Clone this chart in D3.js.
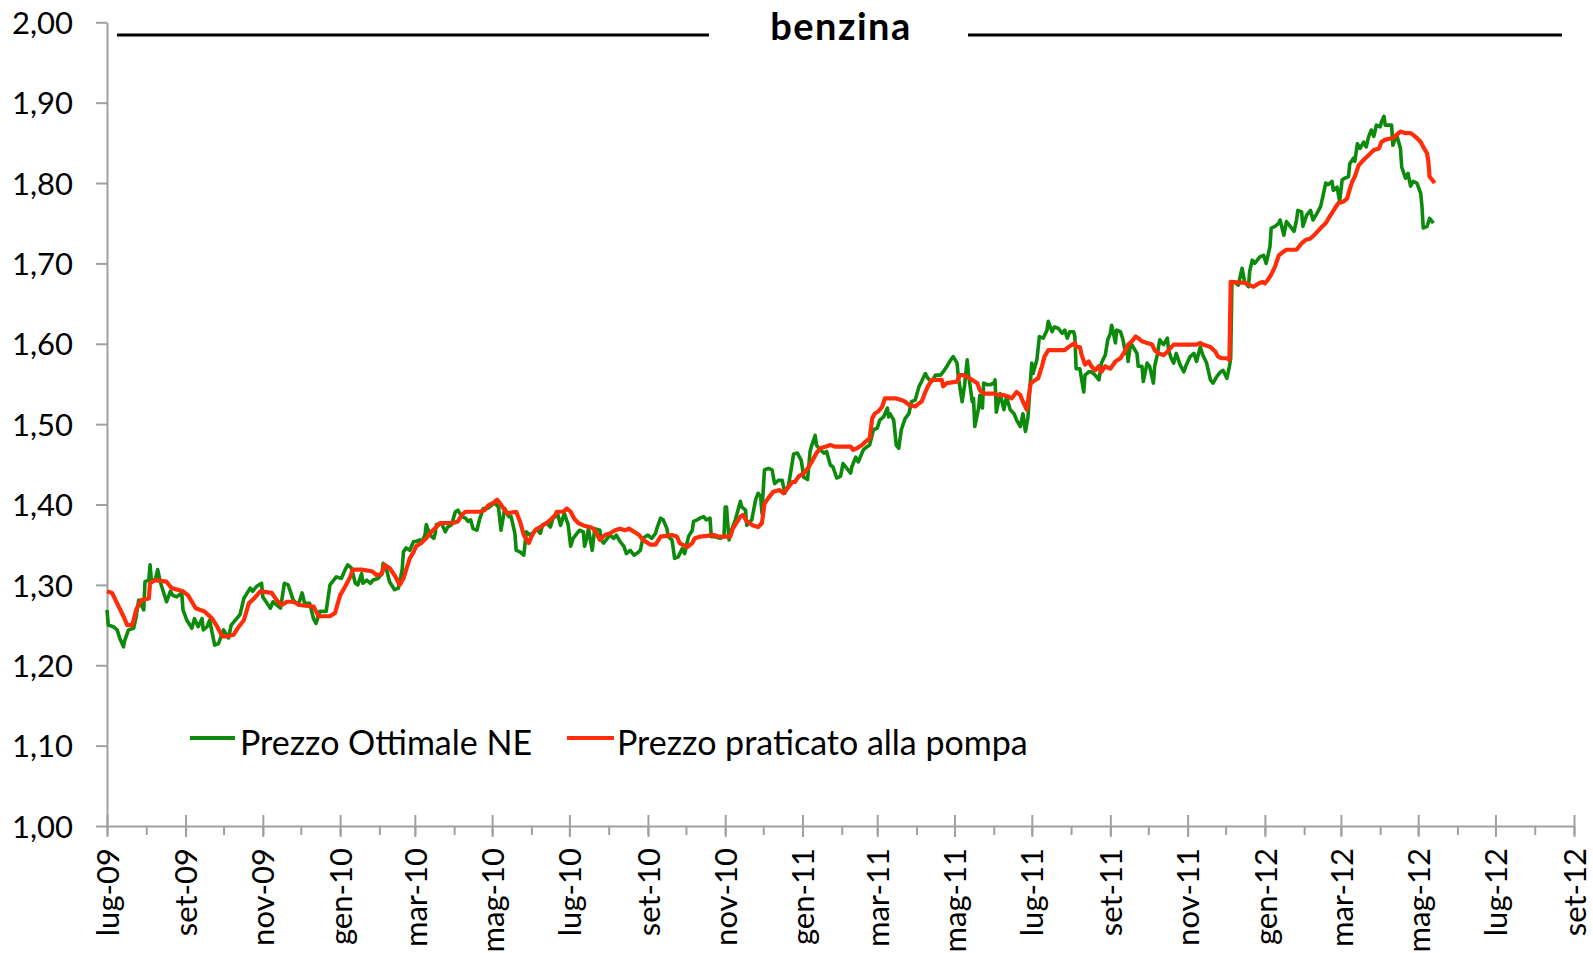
<!DOCTYPE html>
<html><head><meta charset="utf-8">
<script src="https://cdn.jsdelivr.net/npm/d3@7"></script>
<style>
html,body{margin:0;padding:0;background:#fff;}
svg{display:block;}
text{font-family:Lato,"Open Sans",sans-serif;fill:#000;}
</style></head>
<body><svg id="c" width="1593" height="953"></svg>
<script>
// ---- DATA ----
const title = "benzina";
const seriesNames = ["Prezzo Ottimale NE", "Prezzo praticato alla pompa"];
const startDate = "2009-07-01";             // day 0 of the day-offset arrays
const xDomain = ["2009-07-01", "2012-09-01"];
const xTickLabels = ["lug-09","set-09","nov-09","gen-10","mar-10","mag-10","lug-10","set-10","nov-10",
  "gen-11","mar-11","mag-11","lug-11","set-11","nov-11","gen-12","mar-12","mag-12","lug-12","set-12"];
const yTicks = [1.00,1.10,1.20,1.30,1.40,1.50,1.60,1.70,1.80,1.90,2.00];

// Prezzo Ottimale NE (green): days since 1 Jul 2009, value
const greenDays = [0,1,5,8,10,13,14,17,21,23,25,27,29,30,33,34,35,38,40,42,44,47,50,52,55,59,60,63,67,69,72,75,76,79,81,85,88,92,96,98,105,108,113,115,118,122,123,129,131,137,140,143,147,151,154,156,160,163,165,168,173,176,
181,185,188,190,193,196,198,201,202,205,208,210,214,217,218,221,223,227,230,233,234,236,239,242,244,247,248,251,252,255,258,259,260,264,267,269,272,275,277,280,283,285,287,289,292,294,297,300,302,306,309,311,314,317,319,322,323,326,329,331,334,337,339,342,344,347,350,352,356,
358,361,364,366,368,371,373,376,377,379,380,383,385,389,390,392,394,397,400,402,405,408,410,413,416,418,421,423,427,430,433,434,437,439,442,443,446,447,448,451,454,456,459,462,463,466,468,471,473,476,477,480,484,487,488,489,491,492,496,500,501,504,505,509,512,514,516,517,518,519,522,525,527,530,533,535,538,
542,545,548,550,553,555,556,559,560,563,566,568,571,573,576,579,581,584,587,588,591,593,596,597,600,602,605,608,610,613,616,617,618,621,623,625,627,630,633,635,638,641,643,646,648,651,654,658,660,663,666,668,671,672,675,677,679,680,683,684,685,688,689,691,692,695,697,700,701,702,705,708,710,713,716,718,721,723,725,727,
729,730,731,734,736,739,742,743,746,748,751,754,756,758,760,763,764,765,768,769,771,772,775,777,780,783,785,788,790,792,793,794,796,797,800,802,804,805,806,808,810,813,814,817,818,821,823,826,827,829,831,834,837,838,840,842,844,847,850,852,855,858,860,863,865,868,871,873,876,879,881,884,886,887,
888,890,893,896,898,901,902,904,906,910,913,915,918,919,922,925,926,929,931,934,937,939,940,943,944,947,950,952,955,958,960,962,964,967,968,971,973,975,977,980,981,984,985,987,989,992,994,996,998,1000,1002,1005,1006,1008,1009,1014,1015,1018,1021,1022,1025,1027,1029,1031,1034,1037,1038,1039,1042,1044,1047];
const greenValues = [1.269,1.250,1.248,1.244,1.234,1.223,1.231,1.244,1.246,1.260,1.281,1.275,1.269,1.304,1.306,1.325,1.306,1.306,1.319,1.304,1.294,1.279,1.292,1.287,1.285,1.290,1.269,1.256,1.246,1.258,1.248,1.258,1.244,1.248,1.256,1.225,1.227,1.244,1.234,1.250,1.263,1.283,1.296,1.292,1.298,1.302,1.285,1.271,1.279,1.271,1.302,1.300,1.281,1.275,1.290,1.277,1.277,1.258,1.252,1.267,1.267,1.300,
1.310,1.308,1.319,1.325,1.321,1.302,1.300,1.314,1.302,1.306,1.302,1.306,1.308,1.314,1.327,1.317,1.304,1.294,1.296,1.319,1.341,1.346,1.343,1.354,1.354,1.356,1.352,1.362,1.375,1.362,1.358,1.364,1.375,1.377,1.366,1.372,1.375,1.391,1.393,1.385,1.383,1.379,1.381,1.370,1.368,1.381,1.395,1.395,1.397,1.402,1.397,1.368,1.395,1.385,1.385,1.364,1.343,1.341,1.337,1.366,1.362,1.366,1.370,1.364,1.375,1.377,1.372,1.383,1.387,
1.374,1.389,1.375,1.348,1.358,1.364,1.368,1.366,1.348,1.360,1.370,1.343,1.370,1.368,1.356,1.352,1.356,1.362,1.358,1.362,1.354,1.348,1.339,1.343,1.337,1.339,1.343,1.358,1.362,1.358,1.364,1.370,1.383,1.381,1.370,1.360,1.356,1.345,1.333,1.335,1.345,1.339,1.360,1.368,1.379,1.381,1.383,1.385,1.381,1.383,1.360,1.360,1.358,1.360,1.397,1.397,1.356,1.364,1.381,1.404,1.397,1.393,1.374,1.381,1.406,1.414,1.410,1.389,1.418,1.443,1.445,1.443,1.426,1.430,1.430,1.414,1.424,
1.463,1.464,1.455,1.434,1.431,1.466,1.472,1.486,1.474,1.468,1.464,1.466,1.449,1.447,1.433,1.435,1.451,1.445,1.439,1.447,1.459,1.453,1.464,1.468,1.472,1.474,1.493,1.495,1.505,1.509,1.520,1.509,1.513,1.505,1.474,1.470,1.493,1.507,1.513,1.528,1.530,1.547,1.553,1.563,1.557,1.553,1.561,1.561,1.565,1.572,1.580,1.584,1.576,1.559,1.528,1.549,1.580,1.563,1.528,1.532,1.497,1.520,1.536,1.520,1.551,1.549,1.549,1.551,1.555,1.515,1.538,1.518,1.534,1.518,1.513,1.505,1.497,1.513,1.491,1.509,
1.555,1.576,1.563,1.580,1.609,1.607,1.617,1.628,1.615,1.621,1.619,1.613,1.617,1.607,1.615,1.615,1.609,1.569,1.569,1.559,1.540,1.561,1.565,1.565,1.561,1.555,1.576,1.586,1.605,1.613,1.623,1.617,1.601,1.617,1.615,1.605,1.588,1.594,1.578,1.601,1.596,1.588,1.572,1.572,1.553,1.576,1.572,1.551,1.572,1.586,1.605,1.599,1.607,1.592,1.582,1.576,1.588,1.574,1.565,1.574,1.584,1.588,1.578,1.596,1.586,1.576,1.555,1.551,1.559,1.565,1.567,1.557,1.572,1.582,
1.677,1.677,1.673,1.694,1.677,1.671,1.690,1.704,1.700,1.708,1.710,1.700,1.721,1.744,1.746,1.750,1.754,1.735,1.752,1.746,1.740,1.754,1.766,1.764,1.746,1.760,1.766,1.754,1.762,1.771,1.785,1.800,1.798,1.802,1.791,1.795,1.777,1.804,1.806,1.808,1.824,1.831,1.827,1.849,1.843,1.851,1.845,1.858,1.866,1.858,1.872,1.870,1.876,1.883,1.872,1.872,1.847,1.860,1.843,1.820,1.806,1.812,1.796,1.802,1.800,1.787,1.771,1.744,1.746,1.756,1.750];

// Prezzo praticato alla pompa (red): days since 1 Jul 2009, value
const redDays = [0,4,8,13,16,20,23,27,33,34,38,47,51,60,64,70,77,83,87,91,95,100,104,108,112,116,121,130,134,138,142,147,152,163,167,176,180,184,188,192,194,201,209,213,217,219,223,227,231,234,237,239,242,244,248,252,256,260,263,273,277,280,283,294,298,301,305,308,310,313,316,323,326,329,333,335,338,342,347,350,354,355,360,363,366,369,372,376,381,384,387,389,393,397,401,405,409,412,416,420,423,429,433,437,446,450,452,458,462,464,468,479,483,492,494,500,502,505,510,514,517,519,522,526,531,534,538,541,543,546,550,554,557,560,563,567,571,575,587,589,592,596,600,602,604,606,609,612,614,623,627,630,633,638,641,643,646,648,651,659,660,663,671,673,676,679,683,687,689,692,700,704,708,712,714,718,721,723,726,729,731,735,738,740,743,756,759,762,764,765,768,769,772,775,777,780,783,785,788,792,796,800,804,806,809,812,814,817,821,825,827,830,834,837,839,842,860,863,865,871,875,877,880,884,886,887,894,898,902,905,909,912,914,917,919,922,925,929,931,939,943,946,950,954,958,962,965,969,972,976,979,980,983,985,988,992,996,1000,1004,1006,1009,1015,1018,1021,1025,1029,1031,1034,1037,1039,1042,1043,1044,1046,1048];
const redValues = [1.292,1.290,1.277,1.261,1.250,1.250,1.269,1.281,1.283,1.302,1.306,1.304,1.296,1.292,1.287,1.271,1.267,1.258,1.248,1.236,1.236,1.238,1.248,1.256,1.277,1.283,1.292,1.290,1.281,1.275,1.279,1.279,1.275,1.273,1.261,1.261,1.265,1.287,1.298,1.310,1.319,1.319,1.317,1.312,1.314,1.325,1.321,1.312,1.300,1.308,1.323,1.333,1.341,1.348,1.352,1.358,1.366,1.372,1.377,1.377,1.379,1.387,1.391,1.391,1.393,1.399,1.402,1.406,1.402,1.395,1.389,1.391,1.379,1.362,1.352,1.360,1.368,1.372,1.377,1.381,1.387,1.391,1.391,1.395,1.391,1.382,1.377,1.374,1.372,1.370,1.362,1.356,1.362,1.364,1.368,1.370,1.368,1.370,1.366,1.362,1.356,1.350,1.350,1.360,1.362,1.360,1.352,1.347,1.352,1.358,1.360,1.362,1.360,1.360,1.370,1.385,1.387,1.379,1.374,1.372,1.377,1.401,1.408,1.416,1.418,1.414,1.422,1.428,1.428,1.435,1.439,1.447,1.455,1.464,1.470,1.472,1.474,1.472,1.472,1.468,1.470,1.474,1.480,1.482,1.507,1.513,1.516,1.522,1.532,1.532,1.530,1.528,1.524,1.522,1.526,1.528,1.540,1.547,1.555,1.555,1.547,1.551,1.553,1.561,1.561,1.559,1.555,1.551,1.542,1.538,1.538,1.536,1.536,1.534,1.532,1.540,1.536,1.528,1.518,1.550,1.553,1.557,1.572,1.584,1.592,1.592,1.596,1.599,1.601,1.596,1.596,1.588,1.574,1.578,1.572,1.567,1.572,1.565,1.572,1.569,1.578,1.582,1.592,1.599,1.603,1.609,1.607,1.603,1.601,1.599,1.592,1.588,1.586,1.590,1.594,1.599,1.599,1.601,1.599,1.596,1.590,1.584,1.582,1.582,1.580,1.677,1.676,1.676,1.673,1.671,1.675,1.677,1.675,1.681,1.686,1.696,1.710,1.715,1.717,1.717,1.725,1.729,1.731,1.737,1.744,1.750,1.758,1.768,1.775,1.777,1.781,1.787,1.802,1.808,1.822,1.829,1.835,1.841,1.843,1.851,1.854,1.856,1.860,1.864,1.862,1.862,1.860,1.856,1.851,1.845,1.837,1.827,1.808,1.804,1.800];

// ---- DRAW ----
const svg = d3.select("#c");
const parse = d3.timeParse("%Y-%m-%d");
const d0 = parse(startDate);
const axisColor = "#a0a0a0";
const greenColor = "#0c8a0c", redColor = "#ff2d0a";

const x = d3.scaleTime().domain(xDomain.map(parse)).range([107, 1574]);
const y = d3.scaleLinear().domain([1, 2]).range([826, 22.3]);

// axes
const majorDates = d3.timeMonth.every(2).range(parse("2009-07-01"), d3.timeDay.offset(parse(xDomain[1]), 1));
const minorDates = d3.timeMonth.range(parse("2009-07-01"), d3.timeDay.offset(parse(xDomain[1]), 1));

const gMinor = svg.append("g").attr("transform", "translate(0,826)")
  .call(d3.axisBottom(x).tickValues(minorDates).tickSize(9).tickSizeOuter(0).tickFormat(""));
gMinor.select(".domain").remove();
gMinor.selectAll("line").attr("stroke", axisColor).attr("stroke-width", 2);

const gx = svg.append("g").attr("transform", "translate(0,826)")
  .call(d3.axisBottom(x).tickValues(majorDates).tickSize(11).tickSizeOuter(0)
        .tickFormat((d, i) => xTickLabels[i]));
gx.select(".domain").attr("stroke", axisColor).attr("stroke-width", 2);
gx.selectAll(".tick line").attr("y1", -11).attr("y2", 11).attr("stroke", axisColor).attr("stroke-width", 2);
gx.selectAll(".tick text")
  .attr("transform", "rotate(-90)").attr("x", -22).attr("y", 0).attr("dy", "0.36em")
  .style("text-anchor", "end").style("font-size", "31px").style("font-family", "Lato");

const gy = svg.append("g").attr("transform", "translate(107,0)")
  .call(d3.axisLeft(y).tickValues(yTicks).tickSize(11).tickSizeOuter(0).tickPadding(23)
        .tickFormat(d => d3.format(".2f")(d).replace(".", ",")));
gy.select(".domain").attr("stroke", axisColor).attr("stroke-width", 2);
gy.selectAll(".tick line").attr("stroke", axisColor).attr("stroke-width", 2);
gy.selectAll(".tick text").style("font-size", "31px").style("font-family", "Lato").attr("dy", "0.36em");

// series
const line = d3.line().x(d => x(d[0])).y(d => y(d[1]));
const green = greenDays.map((dd, i) => [d3.timeDay.offset(d0, dd), greenValues[i]]);
const red = redDays.map((dd, i) => [d3.timeDay.offset(d0, dd), redValues[i]]);
svg.append("path").datum(green).attr("d", line).attr("fill", "none")
  .attr("stroke", greenColor).attr("stroke-width", 3.6).attr("stroke-linejoin", "round");
svg.append("path").datum(red).attr("d", line).attr("fill", "none")
  .attr("stroke", redColor).attr("stroke-width", 4.2).attr("stroke-linejoin", "round");

// title with rules
svg.append("line").attr("x1", 117).attr("x2", 709).attr("y1", 35).attr("y2", 35).attr("stroke", "#000").attr("stroke-width", 3);
svg.append("line").attr("x1", 968).attr("x2", 1562).attr("y1", 35).attr("y2", 35).attr("stroke", "#000").attr("stroke-width", 3);
svg.append("text").attr("x", 841).attr("y", 40).attr("text-anchor", "middle")
  .style("font-size", "38px").style("font-weight", "bold").style("letter-spacing", "1.5px").text(title);

// legend
const legend = [
  {name: seriesNames[0], color: greenColor, x0: 190, x1: 235, tx: 240},
  {name: seriesNames[1], color: redColor, x0: 567, x1: 614, tx: 617}
];
legend.forEach(l => {
  svg.append("line").attr("x1", l.x0).attr("x2", l.x1).attr("y1", 738).attr("y2", 738)
    .attr("stroke", l.color).attr("stroke-width", 4);
  svg.append("text").attr("x", l.tx).attr("y", 755).style("font-size", "34px").text(l.name);
});
</script></body></html>
